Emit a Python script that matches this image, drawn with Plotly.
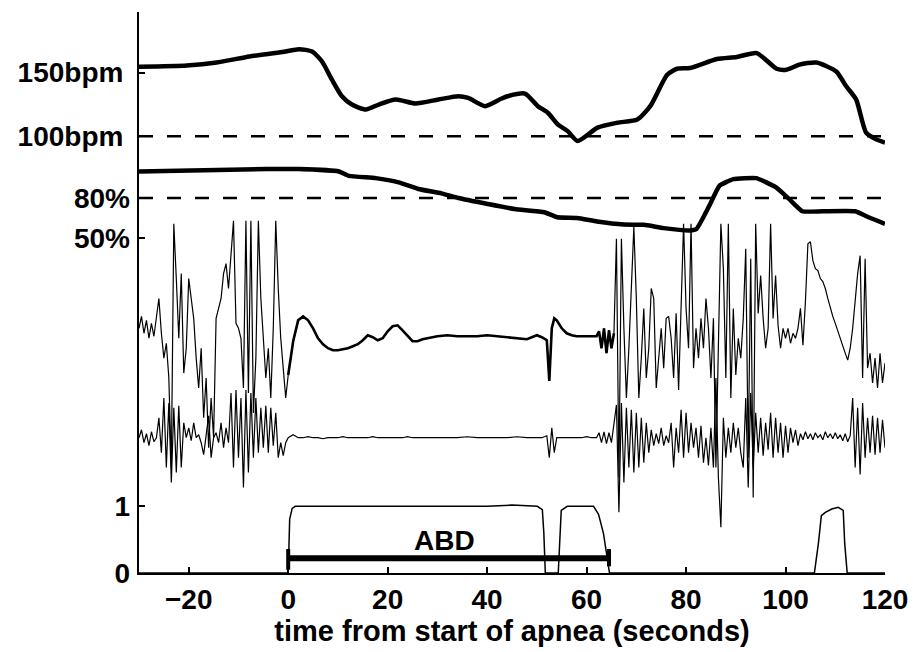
import numpy as np
import plotly.graph_objects as go

# ---------------- data ----------------
# heart rate (bpm)
hr_t = [-30, -20.4, -14.4, -7.8, -1.2, 2.2, 4.8, 6.8, 8.8, 10.8, 12.8, 15.6, 18.2, 21.6, 25.6,
        30.2, 34.2, 36.2, 39.6, 42.8, 44.1, 47.6, 50.2, 52.2, 54.2, 56.2, 58.2, 62.2, 66.2, 70.2,
        72.8, 76.2, 78.2, 80.8, 86.2, 90.2, 94.2, 98.2, 100.2, 102.8, 106.2, 110.2, 112.2, 114.2,
        116.2, 118.2, 120]
hr_v = [154.7, 155.7, 158.0, 162.7, 166.2, 168.5, 166.6, 158.8, 144.5, 131.5, 125.0, 121.1, 125.0,
        128.9, 125.8, 128.9, 131.5, 130.2, 123.7, 129.5, 131.5, 133.6, 123.7, 118.5, 109.4, 104.1,
        96.3, 106.8, 110.7, 113.3, 123.7, 148.4, 153.1, 153.7, 160.7, 162.3, 165.4, 153.1, 152.3,
        156.3, 158.0, 151.0, 139.3, 128.9, 102.9, 97.7, 95.1]

# oxygen saturation (%)
sp_t = [-30, -4.4, 2.2, 10.2, 12.2, 17.6, 22.2, 26.2, 30.8, 34.2, 40.1, 45.5, 51.5, 54.1, 58.1,
        62.1, 67.5, 71.5, 75.5, 80.7, 82.1, 84.7, 86.7, 89.5, 94.1, 98.1, 100.7, 103.4, 107.4,
        114, 116.7, 120]
sp_v = [100, 101.8, 101.8, 100, 96.7, 95, 91.8, 86.8, 83.5, 80, 75.5, 71.7, 69.3, 65.5, 65,
        62.3, 60, 59.75, 57.3, 55.5, 56.7, 74.3, 89.2, 94.2, 95, 88, 79.3, 70, 70, 70, 65.5, 60.5]

hr_ref = 100
sp_ref = 80

# upper respiratory signal (arbitrary units)
thr_pre = [1.5, 2.7, 1.0, 2.3, 0.5, 2.0, 0.7, 2.5, 4.5, 1.0,
           -1.5, 0.0, -3.5, -12.5, 12.0, 6.5, 0.5, 7.0, -3.0, -0.5,
           6.5, 4.5, 2.5, -1.5, -4.5, -0.5, -7.5, -3.5, -10.5, -5.5,
           -9.5, 2.5, 3.5, 4.5, 7.0, 8.0, 5.5, 9.5, 12.3, 2.0,
           1.5, 0.5, -4.5, 12.3, -5.0, 12.3, -7.0, -1.5, 12.3, 4.5,
           0.5, -3.5, -0.5, -5.5, 1.5, 12.3, 5.5, 0.5, -2.5, -5.5]
mid_t = [0, 1, 2, 3, 4, 5, 6, 7, 8, 9, 10, 11, 12, 13, 14, 15, 16, 17, 18, 19, 20, 21, 22, 23,
         24, 25, 26, 27, 28, 29, 30, 32, 34, 36, 38, 40, 42, 44, 46, 48, 50, 51, 52, 52.5, 53,
         53.5, 54, 55, 56, 57, 58, 59, 60, 61, 62, 62.5, 63, 63.5, 64, 64.5, 65, 65.5]
thr_mid = [-3.2, 0.2, 2.3, 2.7, 2.3, 1.5, 0.5, -0.1, -0.5, -0.7, -0.7, -0.6, -0.5, -0.3, -0.1,
           0.3, 0.8, 0.6, 0.3, 0.5, 1.2, 1.7, 1.8, 1.3, 0.7, 0.2, 0.2, 0.4, 0.5, 0.6, 0.7,
           0.8, 0.7, 0.7, 0.7, 0.8, 0.7, 0.6, 0.5, 0.4, 0.8,
           0.6, 0.3, -3.8, 1.5, 2.5,
           2.3, 1.5, 1.0, 0.8, 0.7, 0.7, 0.7, 0.7, 0.7,
           1.2, -0.5, 1.5, -1.0, 1.3, -0.5, 1.0]
thr_post = [10.5, -13.5, 10.5, 1.5, -5.5, -0.5, 5.5, 11.7, 4.5, -5.5,
            -1.5, 3.5, -3.5, -0.5, 5.5, 4.5, -4.5, -1.5, 1.5, -2.5,
            2.5, 2.7, 0.5, -3.5, 3.0, -4.7, 4.5, 12.0, 3.5, -0.5,
            12.0, -2.5, 1.5, -1.5, 2.5, -0.5, 4.5, 1.5, -3.5, 2.5,
            -12.5, 1.5, 12.0, 7.5, -3.5, 12.0, -5.5, 3.5, -3.2, 0.5,
            -1.5, 2.5, 9.5, -11.5, 8.5, -15.5, 12.0, 3.0, 6.8, 2.5,
            -0.5, 1.5, 12.0, 2.5, 6.8, 1.8, -0.5, 1.5, 0.5, 1.5,
            0.0, 1.0, 0.5, 1.5, 3.5, -0.2, 4.2, 10.0, 10.2, 8.3,
            7.5, 7.3, 6.5, 6.2, 5.5, 4.5, 3.5, 2.7, 2.0, 1.2,
            0.5, -0.3, -1.0, -1.7, -0.5, 1.5, 4.5, 7.0, 8.8, -3.5,
            8.5, -2.5, -1.0, -4.0, -1.5, -4.5, -1.0, -4.0, -2.0]

# lower respiratory signal (arbitrary units)
abd_pre = [0.0, 0.8, -0.5, 0.4, -0.8, 0.6, -0.4, 0.0, 2.0, -1.5,
           4.0, -3.0, 3.5, -4.5, 3.0, -3.5, 3.2, -3.0, 1.5, 0.0,
           1.0, -0.3, 1.5, 0.0, 0.3, -0.5, -1.7, 0.2, 2.2, -2.0,
           0.0, 0.5, -0.5, 1.5, -1.0, 1.0, -0.5, 4.5, -3.0, 4.8,
           -2.0, 4.0, -5.0, 4.8, -3.5, 4.5, -2.0, 4.0, -1.5, 3.0,
           -1.0, 3.2, -1.5, 3.0, -0.8, 2.5, -2.0, -0.5, -1.8, -0.5]
abd_mid = [0.0, 0.3, 0.0, 0.0, 0.1, 0.0, 0.0, -0.1, 0.0, 0.0, 0.0, 0.1, 0.0, 0.0, 0.0, 0.0,
           0.0, 0.1, 0.0, 0.0, 0.0, 0.0, 0.0, 0.0, 0.1, 0.0, 0.0, 0.0, 0.0, 0.0, 0.0,
           0.0, 0.0, 0.1, 0.0, 0.0, 0.0, 0.0, 0.1, 0.0, 0.0,
           0.0, 0.2, -2.0, 1.0, -1.5,
           0.0, 0.0, 0.0, 0.0, 0.0, 0.0, 0.1, 0.0, 0.0,
           0.5, -0.5, 0.6, -0.6, 0.5, -0.5, 1.5]
abd_post = [3.3, -7.5, 3.5, -4.5, 3.0, -3.0, 2.8, -3.5, 2.5, -3.0,
            2.0, -2.5, 1.5, -1.5, 0.8, -0.8, 0.4, -0.6, 1.0, -0.8,
            0.2, -0.5, 1.5, -3.0, 1.0, -1.5, 2.8, -2.0, 2.5, -1.5,
            1.5, -1.0, 1.0, -2.0, 1.2, -2.5, 0.0, -2.8, 1.0, -3.0,
            6.0, -4.0, -9.0, 2.0, -2.0, 1.0, -1.5, 1.5, -1.0, 1.0,
            -1.5, -3.0, 4.0, -5.0, 4.5, -3.0, 2.5, -1.5, 2.0, -1.8,
            1.5, -1.2, 2.5, -2.0, 2.0, -1.5, 1.5, -2.0, 1.2, -1.5,
            1.0, -0.5, 0.8, -0.8, 0.4, -0.2, 0.6, -0.1, 0.4, -0.2,
            0.5, 0.0, 0.3, -0.2, 0.6, 0.0, 0.4, -0.1, 0.5, -0.1,
            0.3, -0.3, 0.4, -0.4, 0.2, 4.0, -3.0, 3.0, -3.7, 3.5,
            -2.0, 2.0, -1.5, 2.2, -1.7, 2.0, -1.5, 1.8, -1.0]

pre_start, post_start, step = -30.0, 66.0, 0.5

# scored event signal (0..1)
ev_t = [-30, 0, 0.3, 0.8, 1.4, 5, 10, 20, 30, 40, 45, 50.1, 51.1, 51.4, 51.7, 54.3, 54.9,
        56.1, 61.4, 62.4, 63.4, 64.1, 64.6, 105.8, 106.6, 107.2, 108, 109.3, 110.6, 111.6,
        111.9, 112.4, 120]
ev_v = [0, 0, 0.81, 0.97, 1.0, 1.0, 1.0, 1.0, 1.0, 1.0, 1.02, 1.0, 0.95, 0.6, 0, 0, 0.94,
        1.0, 1.0, 0.88, 0.59, 0.24, 0, 0, 0.44, 0.86, 0.91, 0.96, 0.985, 0.94, 0.44, 0, 0]

abd_start, abd_end, abd_level = 0.0, 64.5, 0.22
abd_label = "ABD"

x_ticks = [-20, 0, 20, 40, 60, 80, 100, 120]
x_ticktext = ["\u221220", "0", "20", "40", "60", "80", "100", "120"]
hr_ticks, hr_ticktext = [100, 150], ["100bpm", "150bpm"]
sp_ticks, sp_ticktext = [50, 80], ["50%", "80%"]
ev_ticks, ev_ticktext = [0, 1], ["0", "1"]
x_title = "time from start of apnea (seconds)"

# ---------------- figure ----------------
FONT = "Arial"
thr_t = list(pre_start + step * np.arange(len(thr_pre))) + mid_t + list(post_start + step * np.arange(len(thr_post)))
abd_t = list(pre_start + step * np.arange(len(abd_pre))) + mid_t + list(post_start + step * np.arange(len(abd_post)))
thr_all = thr_pre + thr_mid + thr_post
abd_all = abd_pre + abd_mid + abd_post

fig = go.Figure()
fig.add_trace(go.Scatter(x=abd_t, y=abd_all, yaxis="y5", mode="lines",
                         line=dict(color="black", width=1.2)))
fig.add_trace(go.Scatter(x=thr_t, y=thr_all, yaxis="y4", mode="lines",
                         line=dict(color="black", width=1.2)))
fig.add_trace(go.Scatter(x=mid_t, y=thr_mid, yaxis="y4", mode="lines",
                         line=dict(color="black", width=2.6)))
fig.add_trace(go.Scatter(x=ev_t, y=ev_v, yaxis="y3", mode="lines",
                         line=dict(color="black", width=1.5)))
fig.add_trace(go.Scatter(x=[abd_start, abd_end], y=[abd_level, abd_level], yaxis="y3", mode="lines",
                         line=dict(color="black", width=6)))
fig.add_trace(go.Scatter(x=[abd_start, abd_start, None, abd_end, abd_end],
                         y=[abd_level - 0.17, abd_level + 0.14, None, abd_level - 0.12, abd_level + 0.14],
                         yaxis="y3", mode="lines", line=dict(color="black", width=4)))
fig.add_trace(go.Scatter(x=[-30, 120], y=[hr_ref, hr_ref], yaxis="y", mode="lines",
                         line=dict(color="black", width=2.5, dash="14px,14px")))
fig.add_trace(go.Scatter(x=[-30, 120], y=[sp_ref, sp_ref], yaxis="y2", mode="lines",
                         line=dict(color="black", width=2.5, dash="14px,14px")))
fig.add_trace(go.Scatter(x=hr_t, y=hr_v, yaxis="y", mode="lines",
                         line=dict(color="black", width=4.5, shape="spline", smoothing=0.6)))
fig.add_trace(go.Scatter(x=sp_t, y=sp_v, yaxis="y2", mode="lines",
                         line=dict(color="black", width=4.5, shape="spline", smoothing=0.4)))

fig.add_annotation(x=(abd_start + abd_end) / 2 - 0.8, y=abd_level + 0.27, yref="y3", xref="x",
                   text=abd_label, showarrow=False,
                   font=dict(family=FONT, size=28, color="black", weight="bold"))

tickfont = dict(family=FONT, size=28, color="black", weight="bold")
ybase = dict(showgrid=False, zeroline=False, ticks="inside", ticklen=6, tickwidth=2,
             tickcolor="black", tickfont=tickfont, anchor="x", side="left",
             tickmode="array", ticklabelstandoff=8)

fig.update_layout(
    width=920, height=652,
    margin=dict(l=139, r=30, t=12, b=76),
    paper_bgcolor="white", plot_bgcolor="white",
    font=dict(family=FONT, color="black"),
    showlegend=False,
    xaxis=dict(range=[-30, 120], tickmode="array", tickvals=x_ticks, ticktext=x_ticktext,
               ticks="inside", ticklen=6, tickwidth=2, tickcolor="black",
               showline=True, linecolor="black", linewidth=2, showgrid=False, zeroline=False,
               tickfont=tickfont, ticklabelstandoff=0,
               title=dict(text=x_title, standoff=5,
                          font=dict(family=FONT, size=29, color="black", weight="bold"))),
    yaxis=dict(ybase, range=[-242.97, 197.66], tickvals=hr_ticks, ticktext=hr_ticktext,
               showline=True, linecolor="black", linewidth=2),
    yaxis2=dict(ybase, overlaying="y", range=[-202.75, 220.25], tickvals=sp_ticks,
                ticktext=sp_ticktext, showline=False),
    yaxis3=dict(ybase, overlaying="y", range=[0, 8.418], tickvals=ev_ticks,
                ticktext=ev_ticktext, showline=False),
    yaxis4=dict(overlaying="y", range=[-23.1, 33.3], visible=False),
    yaxis5=dict(overlaying="y", range=[-13.6, 42.8], visible=False),
)

fig.write_html("out.html")
